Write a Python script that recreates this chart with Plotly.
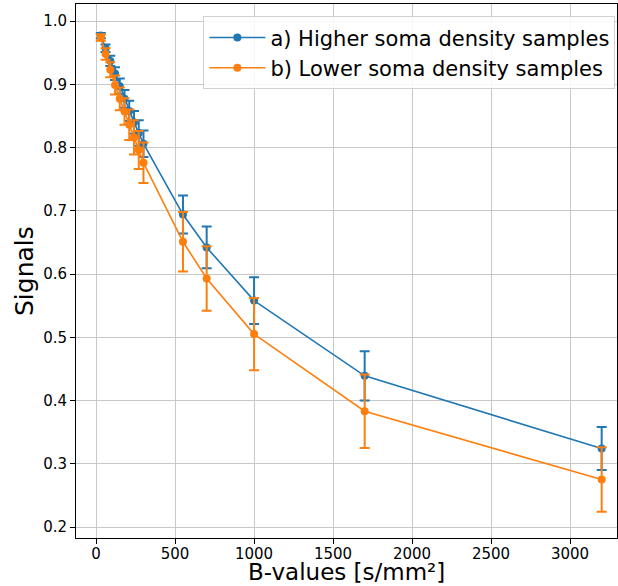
import plotly.graph_objects as go

b_values = [30, 60, 90, 120, 150, 180, 210, 240, 270, 300, 550, 700, 1000, 1700, 3200]

higher_signal = [0.977, 0.957, 0.937, 0.917, 0.897, 0.877, 0.858, 0.840, 0.823, 0.806,
                 0.694, 0.642, 0.558, 0.439, 0.324]
higher_err = [0.004, 0.006, 0.008, 0.010, 0.012, 0.014, 0.016, 0.018, 0.020, 0.021,
              0.030, 0.033, 0.037, 0.039, 0.034]

lower_signal = [0.974, 0.948, 0.923, 0.899, 0.877, 0.857, 0.836, 0.816, 0.796, 0.776,
                0.651, 0.593, 0.505, 0.383, 0.275]
lower_err = [0.005, 0.009, 0.012, 0.015, 0.018, 0.021, 0.024, 0.027, 0.030, 0.032,
             0.047, 0.051, 0.057, 0.058, 0.051]

series_names = ["a) Higher soma density samples", "b) Lower soma density samples"]
colors = ["#1f77b4", "#ff7f0e"]

x_ticks = [0, 500, 1000, 1500, 2000, 2500, 3000]
y_ticks = [0.2, 0.3, 0.4, 0.5, 0.6, 0.7, 0.8, 0.9, 1.0]

fig = go.Figure()
for name, ys, errs, c in [(series_names[0], higher_signal, higher_err, colors[0]),
                          (series_names[1], lower_signal, lower_err, colors[1])]:
    fig.add_trace(go.Scatter(
        x=b_values, y=ys, name=name, mode="lines+markers",
        line=dict(color=c, width=1.6),
        marker=dict(color=c, size=8),
        error_y=dict(type="data", array=errs, visible=True, color=c, thickness=2, width=5),
    ))

font = "DejaVu Sans, Arial, sans-serif"
axis_common = dict(
    showgrid=True, gridcolor="#c8c8c8", gridwidth=1,
    showline=True, linecolor="black", linewidth=1, mirror=True,
    ticks="outside", ticklen=5, tickcolor="black",
    tickfont=dict(family=font, size=15, color="black"),
    zeroline=False, automargin=False,
)
fig.update_layout(
    width=618, height=586,
    margin=dict(l=76, r=1, t=4, b=48),
    paper_bgcolor="white", plot_bgcolor="white",
    font=dict(family=font, color="black"),
    xaxis=dict(range=[-127, 3297], tickvals=x_ticks, ticklabelstandoff=-3, **axis_common),
    yaxis=dict(range=[0.1826, 1.027], tickvals=y_ticks, tickformat=".1f", **axis_common),
    legend=dict(x=0.997, y=0.977, xanchor="right", yanchor="top",
                bgcolor="rgba(255,255,255,0.85)", bordercolor="#d0d0d0", borderwidth=1,
                font=dict(size=21, family=font), itemwidth=56, tracegroupgap=2),
    showlegend=True,
    annotations=[
        dict(text="B-values [s/mm²]", xref="paper", yref="paper", x=0.5, y=0,
             xanchor="center", yanchor="middle", yshift=-34, showarrow=False,
             font=dict(size=23, family=font, color="black")),
        dict(text="Signals", xref="paper", yref="paper", x=0, y=0.5,
             xanchor="center", yanchor="middle", xshift=-52, textangle=-90, showarrow=False,
             font=dict(size=25, family=font, color="black")),
    ],
)
fig.write_html("out.html", config={"displayModeBar": False},
               post_script="document.body.style.margin='0';")
